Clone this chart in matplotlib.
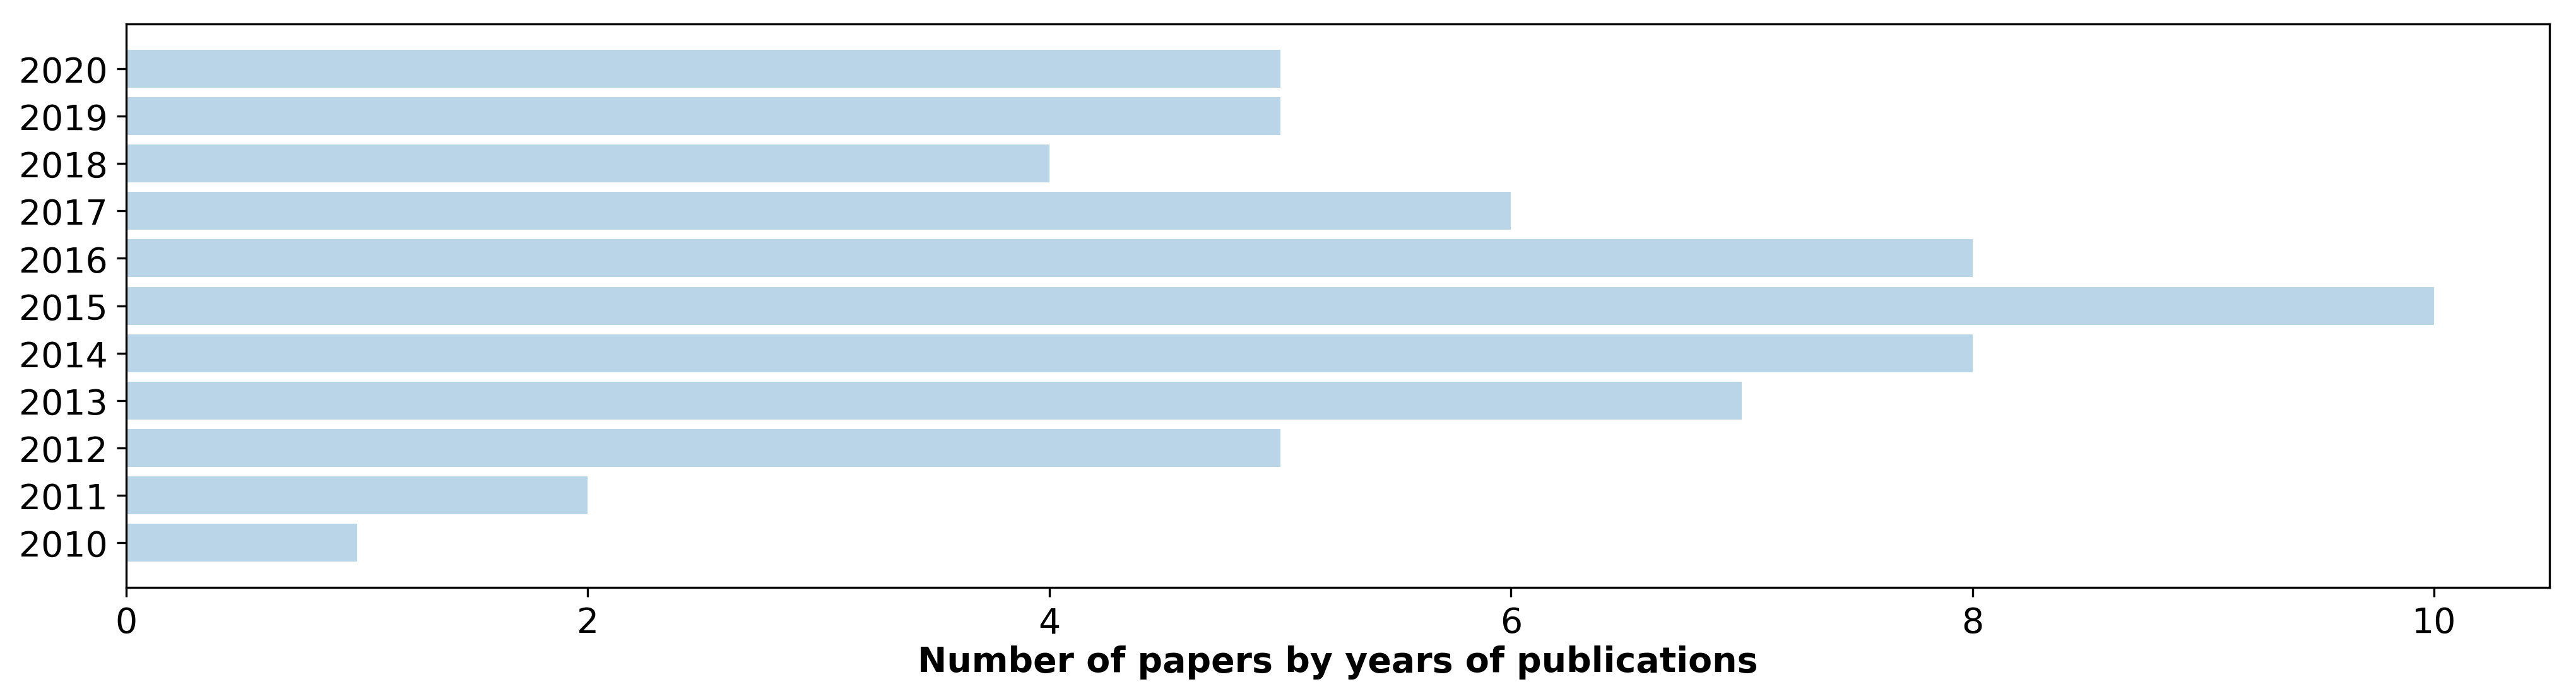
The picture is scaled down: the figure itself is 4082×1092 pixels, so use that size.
import matplotlib
matplotlib.use("Agg")
import matplotlib.pyplot as plt

years = ["2010", "2011", "2012", "2013", "2014", "2015", "2016", "2017", "2018", "2019", "2020"]
papers = [1, 2, 5, 7, 8, 10, 8, 6, 4, 5, 5]

fig, ax = plt.subplots(figsize=(13.607, 3.643), dpi=300)
fig.subplots_adjust(left=0.049, right=0.9897, top=0.9643, bottom=0.1473)
ax.barh(years, papers, height=0.8, color="tab:blue", alpha=0.3)
ax.tick_params(labelsize=13.3)
ax.set_xlabel("Number of papers by years of publications", fontsize=13.3,
              fontweight="bold", labelpad=2)
fig.savefig("out.png", dpi=300)
